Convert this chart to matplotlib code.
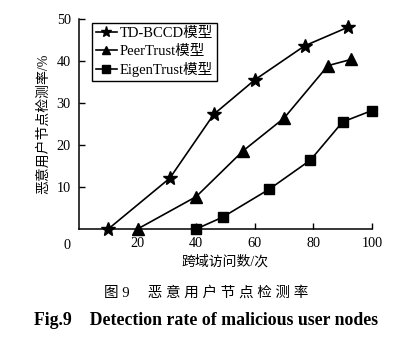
import numpy as np
import matplotlib.pyplot as plt

plt.rcParams['font.family'] = ['Liberation Serif', 'Noto Sans CJK SC']
plt.rcParams['axes.unicode_minus'] = False

# 检测率数据
td_x = [10, 31, 46, 60, 77, 92]
td_y = [0, 12.1, 27.3, 35.5, 43.6, 48.1]
peer_x = [20, 40, 56, 70, 85, 93]
peer_y = [0, 7.7, 18.6, 26.4, 38.9, 40.4]
eigen_x = [40, 49, 65, 79, 90, 100]
eigen_y = [0, 2.8, 9.5, 16.4, 25.5, 28.2]

x_ticks = [20, 40, 60, 80, 100]
y_ticks = [10, 20, 30, 40, 50]

fig = plt.figure(figsize=[4.12, 3.42], dpi=100)
ax = fig.add_axes([0.1917, 0.3304, 0.711, 0.614])

ax.plot(td_x, td_y, color='black', lw=1.2, marker='*', ms=10, label='TD-BCCD模型', clip_on=False)
ax.plot(peer_x, peer_y, color='black', lw=1.2, marker='^', ms=8, label='PeerTrust模型', clip_on=False)
ax.plot(eigen_x, eigen_y, color='black', lw=1.2, marker='s', ms=6.5, label='EigenTrust模型', clip_on=False)

ax.set_xlim(0, 100)
ax.set_ylim(0, 50)
ax.set_xticks(x_ticks)
ax.set_yticks(y_ticks)
ax.tick_params(direction='in', length=4, width=1, labelsize=10.3, pad=6)
ax.spines['top'].set_visible(False)
ax.spines['right'].set_visible(False)
for s in ['left', 'bottom']:
    ax.spines[s].set_linewidth(1.1)

ax.text(-3, -2.4, '0', fontsize=10.3, ha='right', va='top')
ax.set_xlabel('跨域访问数/次', fontsize=10, labelpad=3)
ax.set_ylabel('恶意用户节点检测率/%', fontsize=10, labelpad=5)

leg = ax.legend(loc='upper left', bbox_to_anchor=(0.044, 0.982), fontsize=10.5, handlelength=1.4,
                handletextpad=0.2, labelspacing=0.28, borderpad=0.3, borderaxespad=0,
                fancybox=False, edgecolor='black', framealpha=1, markerscale=0.8)
leg.get_frame().set_linewidth(1)

fig.text(0.5, 0.143, '图 9     恶 意 用 户 节 点 检 测 率', ha='center', va='center', fontsize=10.5)
fig.text(0.5, 0.064, 'Fig.9    Detection rate of malicious user nodes', ha='center', va='center',
         fontsize=12.8, fontweight='bold')

fig.savefig('out.png', dpi=100)
